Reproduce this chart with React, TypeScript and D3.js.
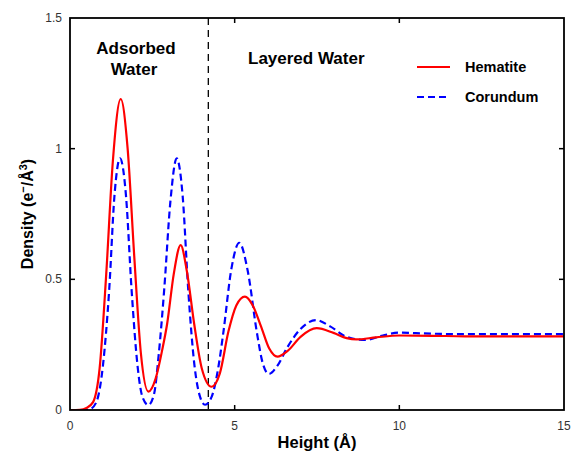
import React from "react";
import * as d3 from "d3";

const hematiteX = [0, 0.3, 0.5, 0.7, 0.9, 1.1, 1.3, 1.54, 1.75, 1.95, 2.15, 2.38, 2.6, 2.8, 2.95, 3.15, 3.36, 3.55, 3.77, 4.0, 4.3, 4.55, 4.81, 5.05, 5.31, 5.55, 5.8, 6.05, 6.3, 6.6, 7.0, 7.49, 8.0, 8.4, 8.7, 9.3, 10, 11, 12, 13, 14, 15];
const hematiteY = [0, 0.001, 0.008, 0.03, 0.16, 0.52, 0.95, 1.19, 1.0, 0.59, 0.22, 0.07, 0.12, 0.23, 0.33, 0.52, 0.631, 0.53, 0.33, 0.16, 0.089, 0.14, 0.3, 0.4, 0.434, 0.4, 0.32, 0.235, 0.204, 0.225, 0.28, 0.313, 0.295, 0.275, 0.27, 0.278, 0.285, 0.284, 0.282, 0.282, 0.282, 0.282];

const corundumX = [0, 0.4, 0.6, 0.8, 1.0, 1.19, 1.35, 1.52, 1.7, 1.87, 2.05, 2.2, 2.38, 2.55, 2.7, 2.86, 3.05, 3.24, 3.42, 3.59, 3.78, 3.95, 4.1, 4.3, 4.5, 4.66, 4.9, 5.14, 5.4, 5.67, 5.85, 6.04, 6.3, 6.6, 7.0, 7.47, 7.9, 8.4, 8.95, 9.5, 10, 10.5, 11, 12, 13, 14, 15];
const corundumY = [0, 0, 0.003, 0.03, 0.17, 0.46, 0.82, 0.963, 0.82, 0.46, 0.17, 0.05, 0.019, 0.06, 0.22, 0.46, 0.8, 0.963, 0.82, 0.46, 0.17, 0.05, 0.02, 0.05, 0.16, 0.3, 0.54, 0.64, 0.53, 0.3, 0.18, 0.138, 0.17, 0.24, 0.31, 0.344, 0.32, 0.28, 0.268, 0.285, 0.296, 0.294, 0.292, 0.29, 0.29, 0.29, 0.29];

const xTicks = [0, 5, 10, 15];
const yTicks = [0, 0.5, 1, 1.5];
const xTickLabels = ["0", "5", "10", "15"];
const yTickLabels = ["0", "0.5", "1", "1.5"];
const boundaryX = 4.2;

const W = 573, H = 455;
const M = { left: 70, right: 564, top: 18, bottom: 410 };
const FONT = "Liberation Sans, Arial, Helvetica, sans-serif";

export default function App() {
  const x = d3.scaleLinear().domain([0, 15]).range([M.left, M.right]);
  const y = d3.scaleLinear().domain([0, 1.5]).range([M.bottom, M.top]);
  const line = d3
    .line<[number, number]>()
    .x((d) => x(d[0]))
    .y((d) => y(d[1]))
    .curve(d3.curveMonotoneX);
  const hem = hematiteX.map((v, i) => [v, hematiteY[i]] as [number, number]);
  const cor = corundumX.map((v, i) => [v, corundumY[i]] as [number, number]);
  const tl = 5;
  return (
    <svg width={W} height={H} style={{ position: "absolute", left: 0, top: 0, background: "#fff" }} fontFamily={FONT}>
      <rect x={0} y={0} width={W} height={H} fill="#fff" />
      <defs>
        <clipPath id="plot">
          <rect x={M.left} y={M.top} width={M.right - M.left} height={M.bottom - M.top} />
        </clipPath>
      </defs>
      <g clipPath="url(#plot)">
        <line x1={x(boundaryX)} x2={x(boundaryX)} y1={M.top} y2={M.bottom} stroke="#000" strokeWidth={1.3} strokeDasharray="7,5" />
        <path d={line(cor) || ""} fill="none" stroke="#0000ff" strokeWidth={2.2} strokeDasharray="7,4" />
        <path d={line(hem) || ""} fill="none" stroke="#ff0000" strokeWidth={2.2} />
      </g>
      <rect x={M.left} y={M.top} width={M.right - M.left} height={M.bottom - M.top} fill="none" stroke="#000" strokeWidth={1.8} />
      {xTicks.slice(1, -1).map((t) => (
        <g key={"xt" + t}>
          <line x1={x(t)} x2={x(t)} y1={M.bottom} y2={M.bottom - tl} stroke="#000" strokeWidth={1.5} />
          <line x1={x(t)} x2={x(t)} y1={M.top} y2={M.top + tl} stroke="#000" strokeWidth={1.5} />
        </g>
      ))}
      {yTicks.slice(1, -1).map((t) => (
        <g key={"yt" + t}>
          <line x1={M.left} x2={M.left + tl} y1={y(t)} y2={y(t)} stroke="#000" strokeWidth={1.5} />
          <line x1={M.right} x2={M.right - tl} y1={y(t)} y2={y(t)} stroke="#000" strokeWidth={1.5} />
        </g>
      ))}
      {xTicks.map((t, i) => (
        <text key={"xl" + t} x={x(t)} y={M.bottom + 20} fontSize={12} textAnchor="middle" fill="#333">
          {xTickLabels[i]}
        </text>
      ))}
      {yTicks.map((t, i) => (
        <text key={"yl" + t} x={M.left - 8} y={y(t) + 4} fontSize={12} textAnchor="end" fill="#333">
          {yTickLabels[i]}
        </text>
      ))}
      <text x={(M.left + M.right) / 2} y={448} fontSize={16.5} fontWeight="bold" textAnchor="middle" fill="#000">
        Height (Å)
      </text>
      <text transform={`translate(33, ${(M.top + M.bottom) / 2}) rotate(-90)`} fontSize={16} fontWeight="bold" textAnchor="middle" fill="#000">
        Density (e<tspan dy={-6} fontSize={11}>−</tspan><tspan dy={6}>/Å</tspan><tspan dy={-6} fontSize={11}>3</tspan><tspan dy={6}>)</tspan>
      </text>
      <text x={136} y={54} fontSize={17} fontWeight="bold" textAnchor="middle" fill="#000">Adsorbed</text>
      <text x={134} y={75} fontSize={17} fontWeight="bold" textAnchor="middle" fill="#000">Water</text>
      <text x={248} y={64} fontSize={17} fontWeight="bold" fill="#000">Layered Water</text>
      <line x1={417} x2={450} y1={67} y2={67} stroke="#ff0000" strokeWidth={2.2} />
      <text x={465} y={72} fontSize={14.5} fontWeight="bold" fill="#000">Hematite</text>
      <line x1={417} x2={450} y1={97} y2={97} stroke="#0000ff" strokeWidth={2.2} strokeDasharray="7,4" />
      <text x={465} y={102} fontSize={14.5} fontWeight="bold" fill="#000">Corundum</text>
    </svg>
  );
}
